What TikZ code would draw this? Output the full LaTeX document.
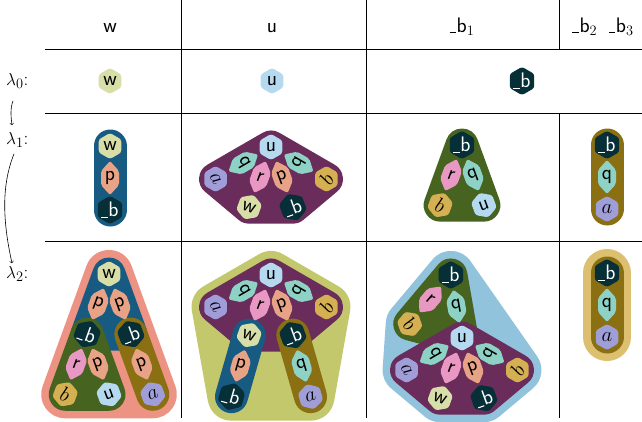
\documentclass[tikz,border=0pt]{standalone}
\usetikzlibrary{shapes.geometric,calc}

\definecolor{cW}{HTML}{D8DEA8}
\definecolor{cU}{HTML}{B5DAEF}
\definecolor{cB}{HTML}{062F38}
\definecolor{cP}{HTML}{E8A386}
\definecolor{cQ}{HTML}{8ED2C6}
\definecolor{cR}{HTML}{E898C3}
\definecolor{cA}{HTML}{9F9ED8}
\definecolor{cBb}{HTML}{D5B052}
\definecolor{gBlue}{HTML}{175A82}
\definecolor{gPurple}{HTML}{6A2C5B}
\definecolor{gGreen}{HTML}{46631F}
\definecolor{gOlive}{HTML}{8A7012}
\definecolor{oSalmon}{HTML}{EC9384}
\definecolor{oYG}{HTML}{C3C86D}
\definecolor{oLB}{HTML}{92C3DC}
\definecolor{oGold}{HTML}{DCC070}

\newcommand\lbl{\fontsize{21}{24}\selectfont\sffamily}

\tikzset{
  vx/.style={regular polygon, regular polygon sides=6, shape border rotate=30,
    minimum size=26pt, inner sep=0pt, rounded corners=2.5pt, font=\lbl},
  vw/.style={vx, fill=cW},
  vu/.style={vx, fill=cU},
  vb/.style={vx, fill=cB, text=white},
  va/.style={vx, fill=cA},
  vbb/.style={vx, fill=cBb},
  elbl/.style={inner sep=0pt, font=\lbl},
  hull/.style={line width=33pt, line join=round, line cap=round},
  ohull/.style={line width=48pt, line join=round, line cap=round},
  gridline/.style={line width=0.8pt},
  lam/.style={font=\fontsize{19}{22}\selectfont, inner sep=2pt},
  arr/.style={->, line width=0.6pt},
}

% child coordinate: parent, angle, name
\newcommand\kid[3]{\coordinate (#3) at ($(#1)+(#2:64)$);}
% edge shape: parent, angle, colour, label
\newcommand\edg[4]{%
  \fill[#3, rounded corners=2pt, shift={($(#1)+(#2:32)$)}, rotate={90-#2}]
    (0,-17)--(9,-7)--(9,7)--(0,17)--(-9,7)--(-9,-7)--cycle;
  \node[elbl, rotate={90-#2}] (e#1#2) at ($(#1)+(#2:32)$) {#4};}
% vertex: coordinate, style, rotation, label
\newcommand\vtx[4]{\node[#2, rotate=#3] (v#1) at (#1) {#4};}
\newcommand\ub{\rule[-1pt]{0.3em}{1.1pt}\kern0.04em b}

\begin{document}
\begin{tikzpicture}[x=1pt,y=-1pt]
\useasboundingbox (0,0) rectangle (642,421);

% grid
\draw[gridline] (45,49) -- (642,49);
\draw[gridline] (45,113) -- (642,113);
\draw[gridline] (45,241) -- (642,241);
\draw[gridline] (181,0) -- (181,418);
\draw[gridline] (366,0) -- (366,418);
\draw[gridline] (559,0) -- (559,49);
\draw[gridline] (559,113) -- (559,418);

% header
\node[elbl, anchor=base] (h1) at (110,32) {w};
\node[elbl, anchor=base] (h2) at (272,32) {u};
\node[elbl, anchor=base] (h3) at (462,32) {\ub$_1$};
\node[elbl, anchor=base] (h4) at (603,32) {\ub$_2$\hspace{0.55em}\ub$_3$};

% row labels
\node[lam, anchor=west] (l0) at (4,81) {$\lambda_0$:};
\node[lam, anchor=west] (l1) at (4,140) {$\lambda_1$:};
\node[lam, anchor=west] (l2) at (4,274) {$\lambda_2$:};
\draw[arr] ([xshift=9pt,yshift=-10pt]l0.south west) .. controls +(-3,8) and +(-1,-8) .. ([xshift=8pt,yshift=5pt]l1.north west);
\draw[arr] ([xshift=10pt,yshift=-4pt]l1.south west) .. controls +(-12,30) and +(-10,-45) .. ([xshift=8pt,yshift=1pt]l2.north west);

% ---------- coordinates
% lambda0
\coordinate (Z1) at (110,81);
\coordinate (Z2) at (272,81);
\coordinate (Z3) at (522,81);
% lambda1
\coordinate (W1r) at (110,146); \kid{W1r}{90}{W1b}
\coordinate (U1r) at (271,147);
\kid{U1r}{150}{U1a} \kid{U1r}{110}{U1w} \kid{U1r}{70}{U1b} \kid{U1r}{30}{U1bb}
\coordinate (B1r) at (462,145); \kid{B1r}{110}{B1bb} \kid{B1r}{70}{B1u}
\coordinate (C1r) at (607,145); \kid{C1r}{90}{C1a}
% lambda2
\coordinate (W2r) at (109,274);
\kid{W2r}{110}{W2L} \kid{W2r}{70}{W2R}
\kid{W2L}{110}{W2bb} \kid{W2L}{70}{W2u} \kid{W2R}{70}{W2a}
\coordinate (U2r) at (271,275);
\kid{U2r}{150}{U2a} \kid{U2r}{110}{U2w} \kid{U2r}{70}{U2b} \kid{U2r}{30}{U2bb}
\kid{U2w}{106}{U2wb} \kid{U2b}{74}{U2ba}
\coordinate (B2u) at (462,338);
\coordinate (B2r) at ($(B2u)+(260:64)$);
\kid{B2r}{130}{B2g}
\kid{B2u}{150}{B2a} \kid{B2u}{110}{B2w} \kid{B2u}{70}{B2b} \kid{B2u}{30}{B2bb}
\coordinate (C2r) at (607,273); \kid{C2r}{90}{C2a}

% ---------- regions
\draw[hull, gBlue] (W1r)--(W1b);
\filldraw[hull, gPurple] (U1r)--(U1bb)--(U1b)--(U1w)--(U1a)--cycle;
\filldraw[hull, gGreen] (B1r)--(B1u)--(B1bb)--cycle;
\draw[hull, gOlive] (C1r)--(C1a);

\filldraw[ohull, oSalmon] (W2r)--(W2a)--(W2bb)--cycle;
\filldraw[hull, gBlue] (W2r)--(W2R)--(W2L)--cycle;
\filldraw[hull, gGreen] (W2L)--(W2u)--(W2bb)--cycle;
\draw[hull, gOlive] (W2R)--(W2a);

\filldraw[ohull, oYG] (U2r)--(U2bb)--(U2ba)--(U2wb)--(U2a)--cycle;
\filldraw[hull, gPurple] (U2r)--(U2bb)--(U2b)--(U2w)--(U2a)--cycle;
\draw[hull, gBlue] (U2w)--(U2wb);
\draw[hull, gOlive] (U2b)--(U2ba);

\filldraw[ohull, oLB] (B2r)--(B2bb)--(B2b)--(B2w)--(B2a)--(B2g)--cycle;
\filldraw[hull, gGreen] (B2r)--(B2u)--(B2g)--cycle;
\filldraw[hull, gPurple] (B2u)--(B2bb)--(B2b)--(B2w)--(B2a)--cycle;

\draw[ohull, oGold] (C2r)--(C2a);
\draw[hull, gOlive] (C2r)--(C2a);

% ---------- edges
\edg{W1r}{90}{cP}{p}
\edg{U1r}{150}{cQ}{q} \edg{U1r}{110}{cR}{r} \edg{U1r}{70}{cP}{p} \edg{U1r}{30}{cQ}{q}
\edg{B1r}{110}{cR}{r} \edg{B1r}{70}{cQ}{q}
\edg{C1r}{90}{cQ}{q}

\edg{W2r}{110}{cP}{p} \edg{W2r}{70}{cP}{p}
\edg{W2L}{110}{cR}{r} \edg{W2L}{70}{cP}{p} \edg{W2R}{70}{cP}{p}
\edg{U2r}{150}{cQ}{q} \edg{U2r}{110}{cR}{r} \edg{U2r}{70}{cP}{p} \edg{U2r}{30}{cQ}{q}
\edg{U2w}{106}{cP}{p} \edg{U2b}{74}{cQ}{q}
\edg{B2r}{130}{cR}{r} \edg{B2r}{80}{cQ}{q}
\edg{B2u}{150}{cQ}{q} \edg{B2u}{110}{cR}{r} \edg{B2u}{70}{cP}{p} \edg{B2u}{30}{cQ}{q}
\edg{C2r}{90}{cQ}{q}

% ---------- vertices
\vtx{Z1}{vw}{0}{w} \vtx{Z2}{vu}{0}{u} \vtx{Z3}{vb}{0}{\ub}

\vtx{W1r}{vw}{0}{w} \vtx{W1b}{vb}{0}{\ub}
\vtx{U1r}{vu}{0}{u} \vtx{U1a}{va}{-60}{$a$} \vtx{U1w}{vw}{-20}{w}
\vtx{U1b}{vb}{20}{\ub} \vtx{U1bb}{vbb}{60}{$b$}
\vtx{B1r}{vb}{0}{\ub} \vtx{B1bb}{vbb}{-20}{$b$} \vtx{B1u}{vu}{20}{u}
\vtx{C1r}{vb}{0}{\ub} \vtx{C1a}{va}{0}{$a$}

\vtx{W2r}{vw}{0}{w} \vtx{W2L}{vb}{-20}{\ub} \vtx{W2R}{vb}{20}{\ub}
\vtx{W2bb}{vbb}{-20}{$b$} \vtx{W2u}{vu}{20}{u} \vtx{W2a}{va}{20}{$a$}
\vtx{U2r}{vu}{0}{u} \vtx{U2a}{va}{-60}{$a$} \vtx{U2w}{vw}{-20}{w}
\vtx{U2b}{vb}{20}{\ub} \vtx{U2bb}{vbb}{60}{$b$}
\vtx{U2wb}{vb}{-16}{\ub} \vtx{U2ba}{va}{16}{$a$}
\vtx{B2r}{vb}{0}{\ub} \vtx{B2g}{vbb}{-40}{$b$} \vtx{B2u}{vu}{0}{u}
\vtx{B2a}{va}{-60}{$a$} \vtx{B2w}{vw}{-20}{w} \vtx{B2b}{vb}{20}{\ub} \vtx{B2bb}{vbb}{60}{$b$}
\vtx{C2r}{vb}{0}{\ub} \vtx{C2a}{va}{0}{$a$}

\end{tikzpicture}
\end{document}
